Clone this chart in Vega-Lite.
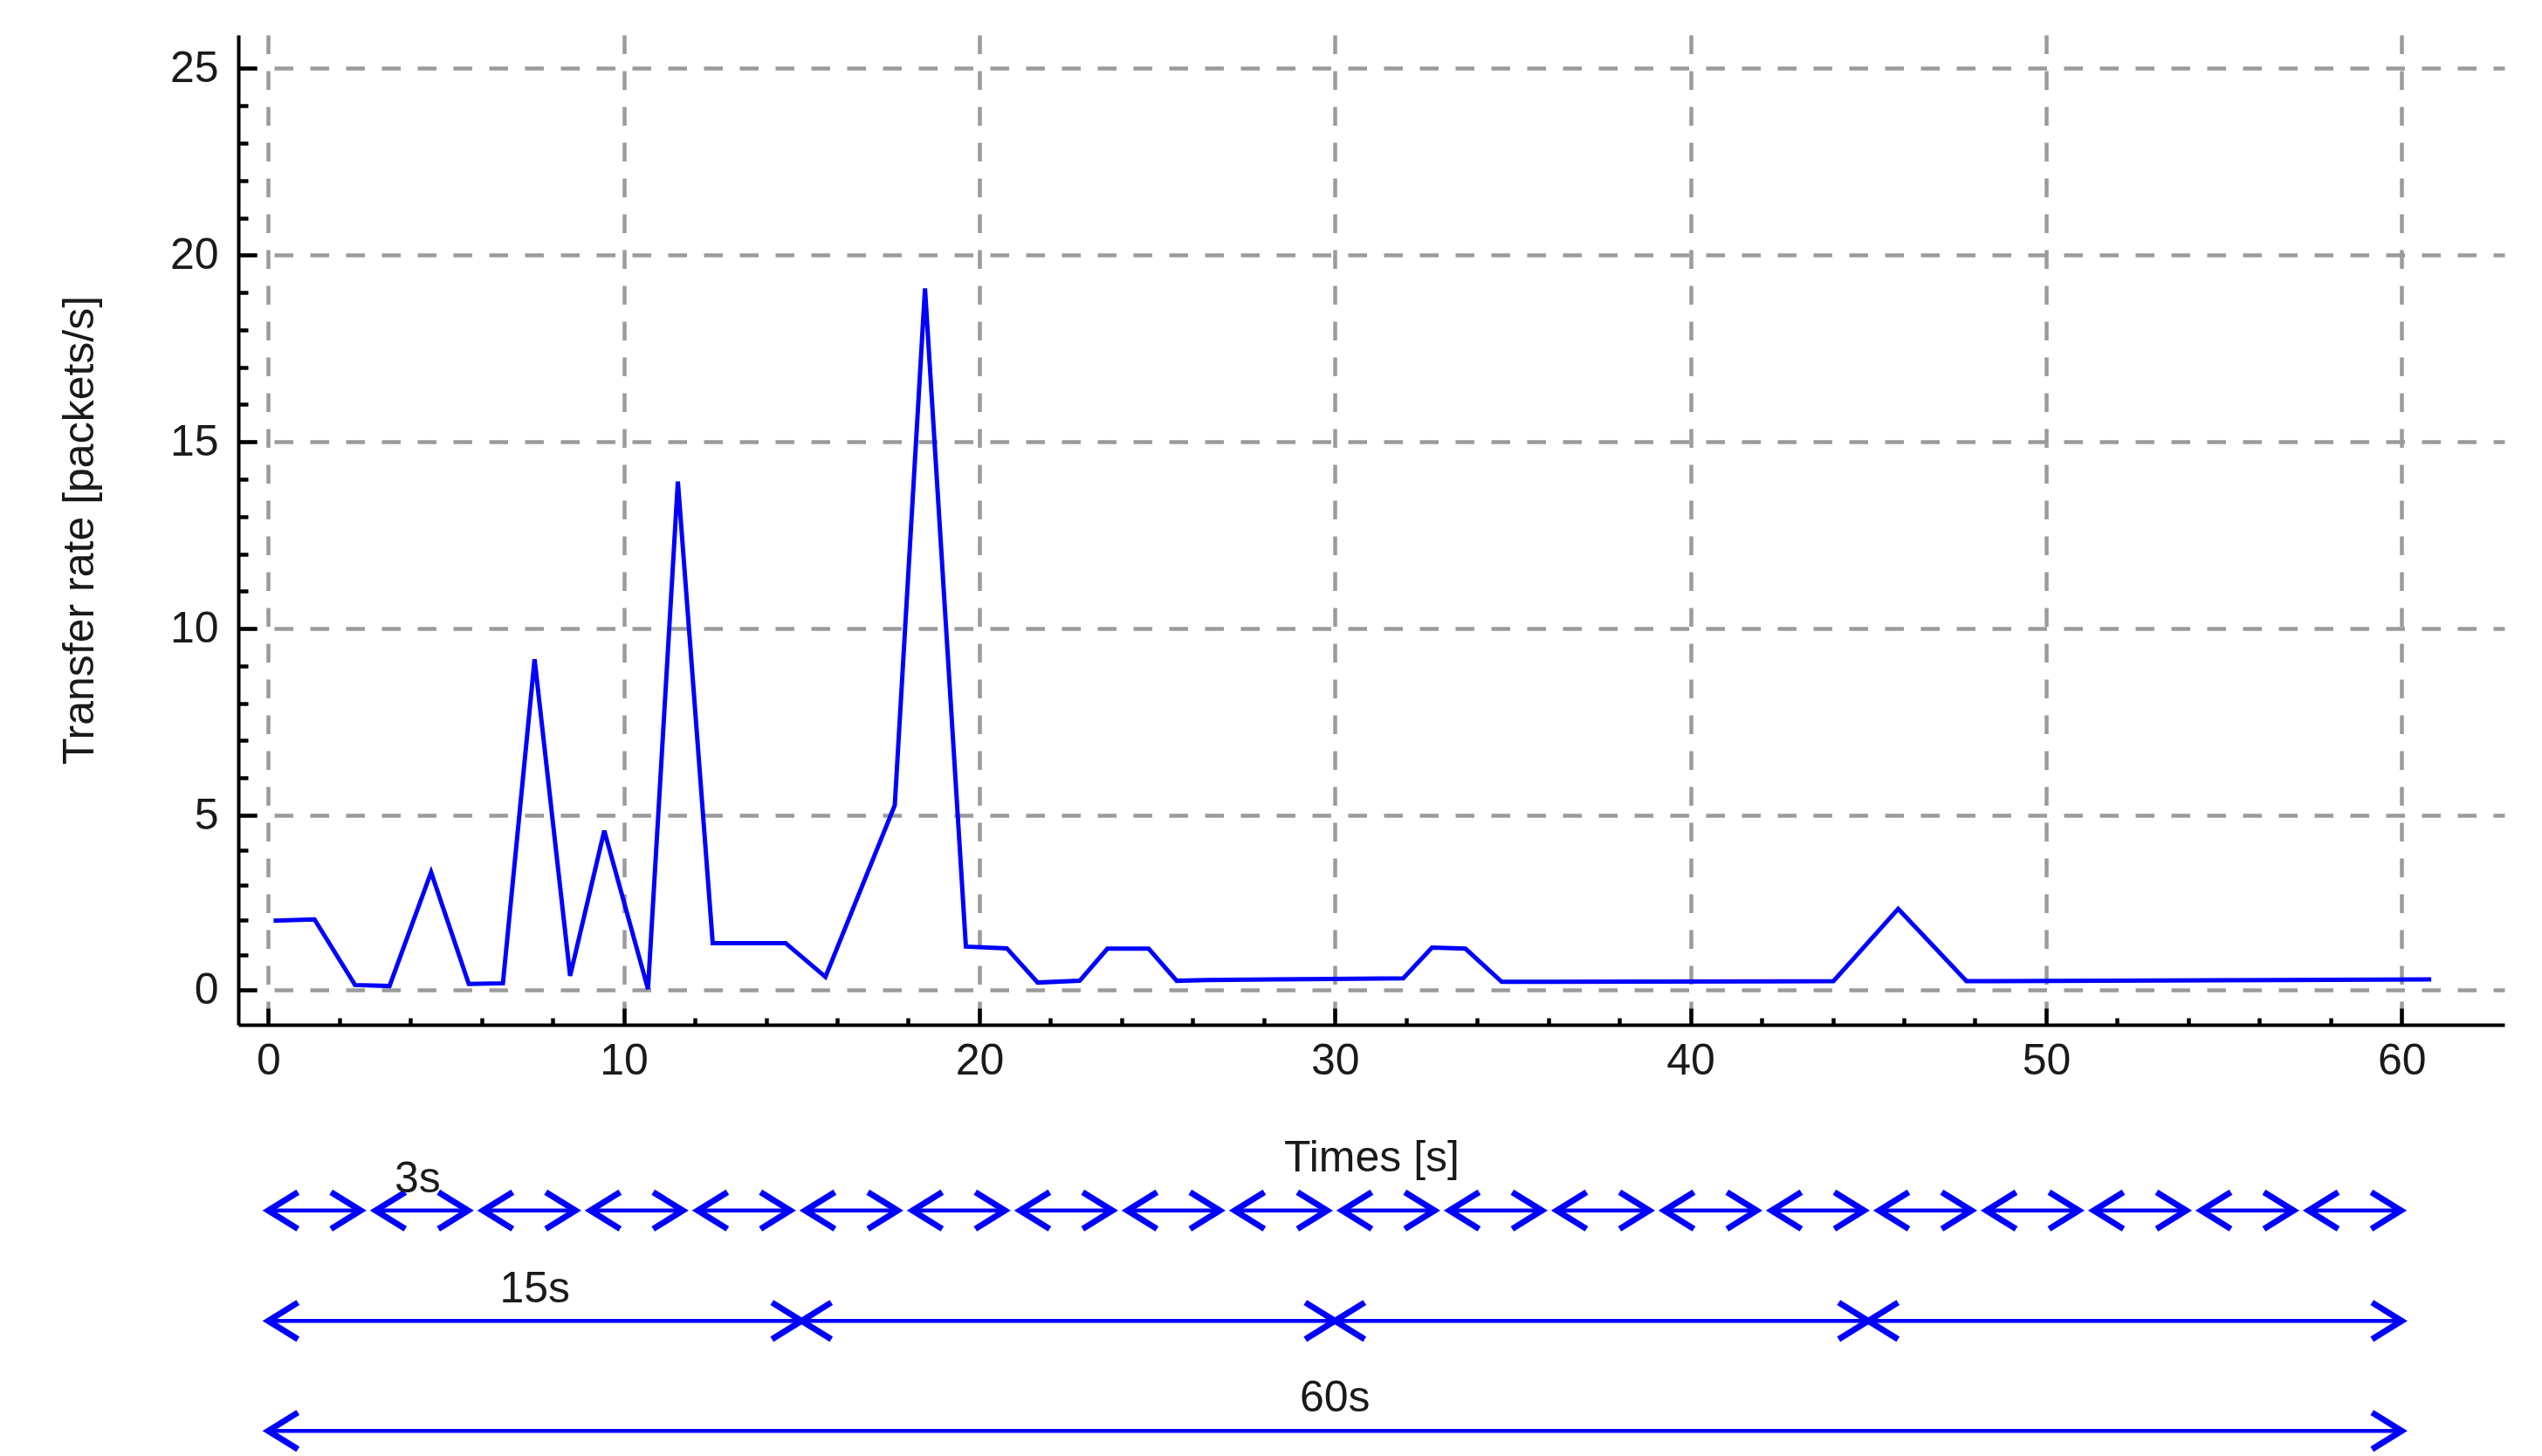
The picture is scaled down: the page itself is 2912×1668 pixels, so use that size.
{
  "$schema": "https://vega.github.io/schema/vega-lite/v6.json",
  "width": 2596,
  "height": 1134,
  "autosize": {"type": "none"},
  "padding": {"left": 273, "top": 40, "right": 43, "bottom": 494},
  "background": "white",
  "config": {"view": {"stroke": null}, "font": "Liberation Sans"},
  "datasets": {
    "series": [
      {"t": 0.15, "rate": 1.98}, {"t": 1.3, "rate": 2.02}, {"t": 2.44, "rate": 0.14}, {"t": 3.41, "rate": 0.11},
      {"t": 4.58, "rate": 3.37}, {"t": 5.64, "rate": 0.17}, {"t": 6.6, "rate": 0.19}, {"t": 7.49, "rate": 9.18},
      {"t": 8.49, "rate": 0.4}, {"t": 9.45, "rate": 4.56}, {"t": 10.68, "rate": 0.02}, {"t": 11.52, "rate": 13.94},
      {"t": 12.5, "rate": 1.34}, {"t": 14.55, "rate": 1.34}, {"t": 15.67, "rate": 0.37}, {"t": 17.62, "rate": 5.27},
      {"t": 18.47, "rate": 19.11}, {"t": 19.62, "rate": 1.24}, {"t": 20.77, "rate": 1.19}, {"t": 21.64, "rate": 0.21},
      {"t": 22.82, "rate": 0.26}, {"t": 23.6, "rate": 1.18}, {"t": 24.76, "rate": 1.18}, {"t": 25.55, "rate": 0.26},
      {"t": 26.4, "rate": 0.28}, {"t": 28.3, "rate": 0.3}, {"t": 30.59, "rate": 0.32}, {"t": 31.92, "rate": 0.33},
      {"t": 32.73, "rate": 1.21}, {"t": 33.67, "rate": 1.18}, {"t": 34.69, "rate": 0.23}, {"t": 39.0, "rate": 0.24},
      {"t": 44.02, "rate": 0.25}, {"t": 45.84, "rate": 2.32}, {"t": 47.76, "rate": 0.25}, {"t": 56.6, "rate": 0.28},
      {"t": 60.83, "rate": 0.3}
    ],
    "arrows": [
      {"x1": 0, "x2": 2.6, "level": -6.32}, {"x1": 3.02, "x2": 5.62, "level": -6.32},
      {"x1": 6.04, "x2": 8.64, "level": -6.32}, {"x1": 9.06, "x2": 11.66, "level": -6.32},
      {"x1": 12.08, "x2": 14.68, "level": -6.32}, {"x1": 15.1, "x2": 17.7, "level": -6.32},
      {"x1": 18.12, "x2": 20.72, "level": -6.32}, {"x1": 21.14, "x2": 23.74, "level": -6.32},
      {"x1": 24.16, "x2": 26.76, "level": -6.32}, {"x1": 27.18, "x2": 29.78, "level": -6.32},
      {"x1": 30.2, "x2": 32.8, "level": -6.32}, {"x1": 33.22, "x2": 35.82, "level": -6.32},
      {"x1": 36.24, "x2": 38.84, "level": -6.32}, {"x1": 39.26, "x2": 41.86, "level": -6.32},
      {"x1": 42.28, "x2": 44.88, "level": -6.32}, {"x1": 45.3, "x2": 47.9, "level": -6.32},
      {"x1": 48.32, "x2": 50.92, "level": -6.32}, {"x1": 51.34, "x2": 53.94, "level": -6.32},
      {"x1": 54.36, "x2": 56.96, "level": -6.32}, {"x1": 57.38, "x2": 59.98, "level": -6.32},
      {"x1": 0, "x2": 15, "level": -9.48}, {"x1": 15, "x2": 30, "level": -9.48},
      {"x1": 30, "x2": 45, "level": -9.48}, {"x1": 45, "x2": 60, "level": -9.48},
      {"x1": 0, "x2": 60, "level": -12.63}
    ],
    "labels": [
      {"text": "3s", "x": 4.2, "level": -5.8},
      {"text": "15s", "x": 7.5, "level": -8.95},
      {"text": "60s", "x": 30, "level": -12.08}
    ]
  },
  "layer": [
    {
      "data": {"name": "series"},
      "mark": {"type": "line", "color": "#0000ff", "strokeWidth": 5},
      "encoding": {
        "x": {
          "field": "t", "type": "quantitative",
          "scale": {"domain": [-0.842, 62.89], "nice": false, "zero": false},
          "axis": {
            "values": [0,2,4,6,8,10,12,14,16,18,20,22,24,26,28,30,32,34,36,38,40,42,44,46,48,50,52,54,56,58,60],
            "labelExpr": "datum.value % 10 === 0 ? datum.label : ''",
            "labelFontSize": 50, "labelColor": "#1a1a1a", "labelFont": "Liberation Sans",
            "labelPadding": 35, "labelFlush": false, "labelOverlap": false,
            "tickSize": {"condition": {"test": "datum.value % 10 === 0", "value": -19}, "value": -8},
            "tickWidth": 4.5, "tickColor": "black",
            "domainColor": "black", "domainWidth": 4,
            "grid": true, "gridColor": "#9b9b9b", "gridWidth": 4.5, "gridDash": [21.5, 19.5],
            "gridOpacity": {"condition": {"test": "datum.value % 10 === 0", "value": 1}, "value": 0},
            "title": "Times [s]", "titleFontSize": 50, "titleFontWeight": "normal",
            "titleColor": "#1a1a1a", "titleFont": "Liberation Sans", "titlePadding": 50
          }
        },
        "y": {
          "field": "rate", "type": "quantitative",
          "scale": {"domain": [-1, 0, 5, 25.9], "range": [1134, 1094, 894, 0], "nice": false, "zero": false},
          "axis": {
            "values": [0,1,2,3,4,5,6,7,8,9,10,11,12,13,14,15,16,17,18,19,20,21,22,23,24,25],
            "labelExpr": "datum.value % 5 === 0 ? datum.label : ''",
            "labelFontSize": 50, "labelColor": "#1a1a1a", "labelFont": "Liberation Sans",
            "labelPadding": 44, "labelFlush": false, "labelOverlap": false,
            "tickSize": {"condition": {"test": "datum.value % 5 === 0", "value": -21}, "value": -11},
            "tickWidth": 4.5, "tickColor": "black",
            "domainColor": "black", "domainWidth": 4,
            "grid": true, "gridColor": "#9b9b9b", "gridWidth": 4.5, "gridDash": [21.5, 19.5],
            "gridOpacity": {"condition": {"test": "datum.value % 5 === 0", "value": 1}, "value": 0},
            "title": "Transfer rate [packets/s]", "titleFontSize": 50, "titleFontWeight": "normal",
            "titleColor": "#1a1a1a", "titleFont": "Liberation Sans", "titlePadding": 78
          }
        }
      }
    },
    {
      "data": {"name": "arrows"},
      "mark": {"type": "rule", "color": "#0000ff", "strokeWidth": 4.5},
      "encoding": {
        "x": {"field": "x1", "type": "quantitative", "scale": {"domain": [-0.842, 62.89], "nice": false, "zero": false}},
        "x2": {"field": "x2"},
        "y": {"field": "level", "type": "quantitative", "scale": {"domain": [-1, 0, 5, 25.9], "range": [1134, 1094, 894, 0], "nice": false, "zero": false}}
      }
    },
    {
      "data": {"name": "arrows"},
      "mark": {"type": "point", "shape": "M 1 -0.62 L 0 0 L 1 0.62", "size": 4624, "filled": false, "stroke": "#0000ff", "strokeWidth": 7, "opacity": 1, "strokeJoin": "miter"},
      "encoding": {
        "x": {"field": "x1", "type": "quantitative", "scale": {"domain": [-0.842, 62.89], "nice": false, "zero": false}},
        "y": {"field": "level", "type": "quantitative", "scale": {"domain": [-1, 0, 5, 25.9], "range": [1134, 1094, 894, 0], "nice": false, "zero": false}}
      }
    },
    {
      "data": {"name": "arrows"},
      "mark": {"type": "point", "shape": "M -1 -0.62 L 0 0 L -1 0.62", "size": 4624, "filled": false, "stroke": "#0000ff", "strokeWidth": 7, "opacity": 1, "strokeJoin": "miter"},
      "encoding": {
        "x": {"field": "x2", "type": "quantitative", "scale": {"domain": [-0.842, 62.89], "nice": false, "zero": false}},
        "y": {"field": "level", "type": "quantitative", "scale": {"domain": [-1, 0, 5, 25.9], "range": [1134, 1094, 894, 0], "nice": false, "zero": false}}
      }
    },
    {
      "data": {"name": "labels"},
      "mark": {"type": "text", "fontSize": 50, "font": "Liberation Sans", "color": "#1a1a1a", "align": "center", "baseline": "alphabetic"},
      "encoding": {
        "x": {"field": "x", "type": "quantitative", "scale": {"domain": [-0.842, 62.89], "nice": false, "zero": false}},
        "y": {"field": "level", "type": "quantitative", "scale": {"domain": [-1, 0, 5, 25.9], "range": [1134, 1094, 894, 0], "nice": false, "zero": false}},
        "text": {"field": "text"}
      }
    }
  ]
}
